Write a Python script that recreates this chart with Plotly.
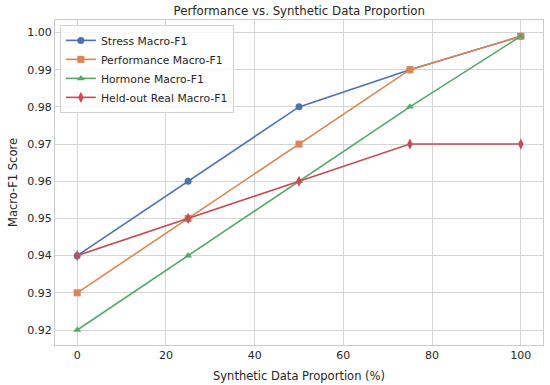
import plotly.graph_objects as go

proportions = [0, 25, 50, 75, 100]
stress_f1 = [0.94, 0.96, 0.98, 0.99, 0.999]
performance_f1 = [0.93, 0.95, 0.97, 0.99, 0.999]
hormone_f1 = [0.92, 0.94, 0.96, 0.98, 0.999]
heldout_f1 = [0.94, 0.95, 0.96, 0.97, 0.97]

series = [
    ("Stress Macro-F1", stress_f1, "#4c72b0", "circle", 7),
    ("Performance Macro-F1", performance_f1, "#dd8452", "square", 7),
    ("Hormone Macro-F1", hormone_f1, "#55a868", "triangle-up", 7),
    ("Held-out Real Macro-F1", heldout_f1, "#c44e52", "diamond-tall", 8),
]

fig = go.Figure()
for name, vals, color, sym, msize in series:
    fig.add_trace(go.Scatter(
        x=proportions, y=vals, mode="lines+markers", name=name,
        line=dict(color=color, width=1.6),
        marker=dict(symbol=sym, size=msize, color=color),
    ))

font = "DejaVu Sans, sans-serif"
fig.update_layout(
    width=550, height=385,
    margin=dict(l=55, r=7, t=20, b=40),
    paper_bgcolor="white", plot_bgcolor="white",
    font=dict(family=font, size=11, color="#262626"),
    title=dict(text="Performance vs. Synthetic Data Proportion", x=0.544, xanchor="center",
               y=1 - 11 / 385, yanchor="middle", font=dict(size=11.8, color="#262626")),
    legend=dict(x=0.01, y=0.985, xanchor="left", yanchor="top",
                bgcolor="rgba(255,255,255,0.8)", bordercolor="#d0d0d0", borderwidth=1,
                font=dict(size=10.8), tracegroupgap=0, itemwidth=30),
    showlegend=True,
)
fig.update_xaxes(
    range=[-5, 105], tickvals=[0, 20, 40, 60, 80, 100], showgrid=True, gridcolor="#d5d5d5",
    gridwidth=1, zeroline=False, showline=True, linecolor="#cccccc", mirror=True,
    title=dict(text="Synthetic Data Proportion (%)", font=dict(size=11.5), standoff=10),
    ticks="", tickfont=dict(size=11), automargin=False,
)
fig.update_yaxes(
    range=[0.91597, 1.00336], tickvals=[0.92, 0.93, 0.94, 0.95, 0.96, 0.97, 0.98, 0.99, 1.00],
    tickformat=".2f", showgrid=True, gridcolor="#d5d5d5", gridwidth=1, zeroline=False,
    showline=True, linecolor="#cccccc", mirror=True,
    title=dict(text="Macro-F1 Score", font=dict(size=11.5), standoff=7),
    ticks="", tickfont=dict(size=11), automargin=False,
)
fig.write_html("out.html", config={"displayModeBar": False},
               post_script="document.body.style.margin='0';")
